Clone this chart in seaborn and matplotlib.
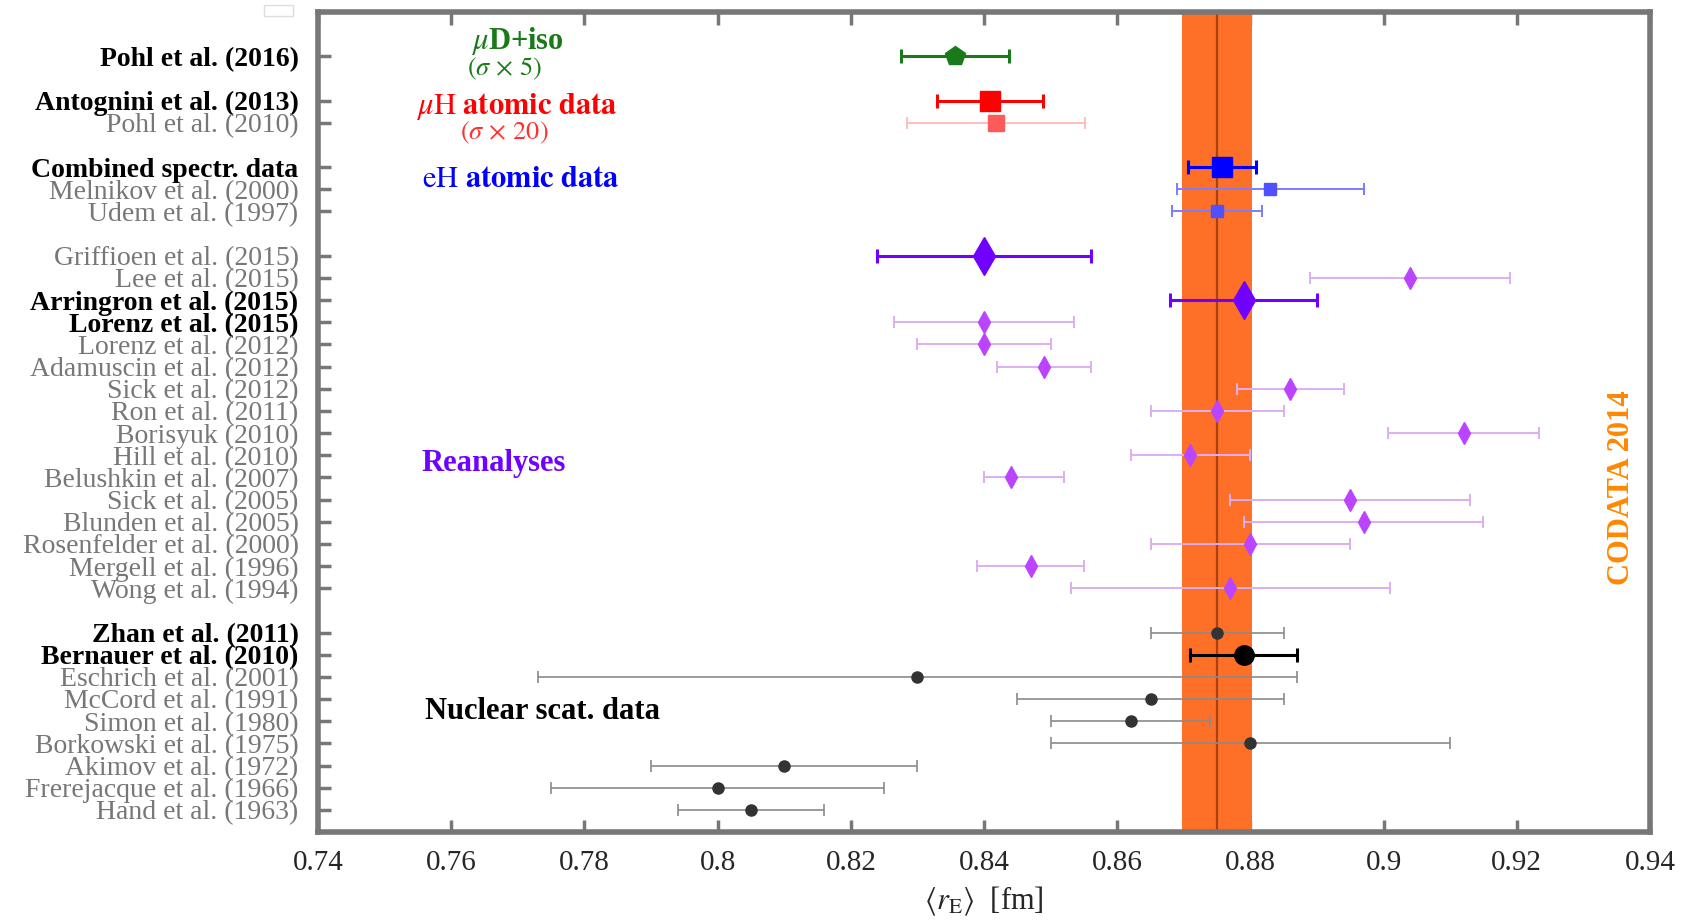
import numpy as np
import pandas as pd
import matplotlib
matplotlib.use("Agg")
import matplotlib.pyplot as plt
from matplotlib.patches import Rectangle
import seaborn as sns

# measurements, listed top to bottom (value, lower error, upper error)
labels = [
    "Pohl et al. (2016)",
    "Antognini et al. (2013)", "Pohl et al. (2010)",
    "Combined spectr. data", "Melnikov et al. (2000)", "Udem et al. (1997)",
    "Griffioen et al. (2015)", "Lee et al. (2015)", "Arringron et al. (2015)",
    "Lorenz et al. (2015)", "Lorenz et al. (2012)", "Adamuscin et al. (2012)",
    "Sick et al. (2012)", "Ron et al. (2011)", "Borisyuk (2010)", "Hill et al. (2010)",
    "Belushkin et al. (2007)", "Sick et al. (2005)", "Blunden et al. (2005)",
    "Rosenfelder et al. (2000)", "Mergell et al. (1996)", "Wong et al. (1994)",
    "Zhan et al. (2011)", "Bernauer et al. (2010)", "Eschrich et al. (2001)",
    "McCord et al. (1991)", "Simon et al. (1980)", "Borkowski et al. (1975)",
    "Akimov et al. (1972)", "Frerejacque et al. (1966)", "Hand et al. (1963)",
]
group = ["muD", "muH", "muH", "eH", "eH", "eH"] + ["re"] * 16 + ["sc"] * 9
radius = [0.8356, 0.8409, 0.8418, 0.8758, 0.883, 0.875,
          0.840, 0.904, 0.879, 0.840, 0.840, 0.849, 0.886, 0.875, 0.912, 0.871,
          0.844, 0.895, 0.897, 0.880, 0.847, 0.877,
          0.875, 0.879, 0.830, 0.865, 0.862, 0.880, 0.810, 0.800, 0.805]
err_lo = [0.0081, 0.0079, 0.0134, 0.0051, 0.014, 0.0068,
          0.016, 0.015, 0.011, 0.0135, 0.010, 0.007, 0.008, 0.010, 0.0113, 0.009,
          0.004, 0.018, 0.018, 0.015, 0.008, 0.024,
          0.010, 0.008, 0.057, 0.020, 0.012, 0.030, 0.020, 0.025, 0.011]
err_hi = [0.0081, 0.0079, 0.0134, 0.0051, 0.014, 0.0068,
          0.016, 0.015, 0.011, 0.0135, 0.010, 0.007, 0.008, 0.010, 0.0113, 0.009,
          0.008, 0.018, 0.018, 0.015, 0.008, 0.024,
          0.010, 0.008, 0.057, 0.020, 0.012, 0.030, 0.020, 0.025, 0.011]
highlight = [True, True, False, True, False, False,
             True, False, True, False, False, False, False, False, False, False,
             False, False, False, False, False, False,
             False, True, False, False, False, False, False, False, False]
bold_label = [True, True, False, True, False, False,
              False, False, True, True, False, False, False, False, False, False,
              False, False, False, False, False, False,
              True, True, False, False, False, False, False, False, False]

codata_value = 0.8750
codata_err = 0.0052

df = pd.DataFrame({"label": labels, "group": group, "r": radius,
                   "lo": err_lo, "hi": err_hi, "main": highlight, "bold": bold_label})

# y positions with a blank row between groups
ypos = []
y = len(df) + 4 - 1
prev = None
for g in df["group"]:
    if prev is not None and g != prev:
        y -= 1
    ypos.append(y)
    y -= 1
    prev = g
df["y"] = ypos

# (marker, marker colour, bar colour, size, bar width)
STYLE = {
    ("muD", True): ("p", "#1a7a1a", "#1a7a1a", 15, 2.2),
    ("muH", True): ("s", "#ff0000", "#ff0000", 14, 2.2),
    ("muH", False): ("s", "#ff5a5a", "#ffbcbc", 11, 1.4),
    ("eH", True): ("s", "#0000ff", "#0000ff", 14, 2.2),
    ("eH", False): ("s", "#5050ff", "#7c7cff", 9, 1.4),
    ("re", True): ("d", "#7000ff", "#7000ff", 19, 2.2),
    ("re", False): ("d", "#bb44ff", "#ddaef2", 11, 1.4),
    ("sc", True): ("o", "#000000", "#000000", 14, 2.2),
    ("sc", False): ("o", "#333333", "#8a8a8a", 8, 1.2),
}

sns.set_theme(style="ticks")
plt.rcParams["font.family"] = ["Liberation Serif", "DejaVu Serif"]
plt.rcParams["mathtext.fontset"] = "stix"

fig = plt.figure(figsize=(16.89, 9.23), dpi=100)
ax = fig.add_axes([0.1883, 0.0986, 0.7886, 0.8884])

# CODATA band
ax.axvspan(codata_value - codata_err, codata_value + codata_err,
           color="#fe7028", lw=0, zorder=1)
ax.axvline(codata_value, color="#a8420e", lw=1.6, zorder=1.5)

for _, row in df.iterrows():
    marker, mc, bc, ms, lw = STYLE[(row["group"], row["main"])]
    ax.errorbar(row["r"], row["y"], xerr=[[row["lo"]], [row["hi"]]], fmt="none",
                ecolor=bc, elinewidth=lw, capsize=5 if row["main"] else 4,
                capthick=lw, zorder=3)
    ax.plot(row["r"], row["y"], marker=marker, markersize=ms,
            color=mc, mec=mc, ls="none", zorder=4)

ax.set_xlim(0.74, 0.94)
ax.set_ylim(-1, 36)
ax.set_xticks(np.arange(0.74, 0.9401, 0.02))
ax.set_xticklabels(["0.74", "0.76", "0.78", "0.8", "0.82", "0.84", "0.86",
                    "0.88", "0.9", "0.92", "0.94"], fontsize=21)
ax.set_yticks(df["y"])
ax.set_yticklabels(df["label"], fontsize=20)
for tl, b in zip(ax.get_yticklabels(), df["bold"]):
    if b:
        tl.set_fontweight("bold")
        tl.set_color("black")
    else:
        tl.set_color("#777777")

for side in ["left", "right", "top", "bottom"]:
    ax.spines[side].set_color("#777777")
    ax.spines[side].set_linewidth(4)
    ax.spines[side].set_zorder(5)
ax.tick_params(axis="x", direction="in", length=9, width=2.5, color="#777777",
               top=True, bottom=True, pad=13)
ax.tick_params(axis="y", direction="in", length=9, width=2.5, color="#777777",
               left=True, right=False, pad=14)

ax.set_xlabel(r"$\langle r_\mathrm{E}\rangle$  [fm]", fontsize=22, labelpad=6)

# group annotations
ax.text(0.7699, 34.7, r"$\mu$D+iso", color="#1a7a1a", fontsize=22,
        fontweight="bold", ha="center", va="center")
ax.text(0.768, 33.45, r"$(\sigma\,\times\,5)$", color="#1a7a1a", fontsize=19,
        ha="center", va="center")
ax.text(0.7547, 31.75, r"$\mu\mathrm{H}$ $\mathbf{atomic\ data}$", color="#ff0000",
        fontsize=22, ha="left", va="center")
ax.text(0.768, 30.55, r"$(\sigma\,\times\,20)$", color="#ff3030", fontsize=19,
        ha="center", va="center")
ax.text(0.7556, 28.42, r"$\mathrm{eH}$ $\mathbf{atomic\ data}$", color="#0000ff",
        fontsize=22, ha="left", va="center")
ax.text(0.7556, 15.62, "Reanalyses", color="#7000ff", fontsize=22,
        fontweight="bold", ha="left", va="center")
ax.text(0.7561, 4.43, "Nuclear scat. data", color="black", fontsize=22,
        fontweight="bold", ha="left", va="center")
ax.text(0.9357, 14.55, "CODATA 2014", color="#ff8800", fontsize=22,
        fontweight="bold", rotation=90, ha="center", va="center")

# stray empty legend box at the top left
fig.patches.append(Rectangle((0.1563, 0.9827), 0.0172, 0.0119, transform=fig.transFigure,
                             fill=False, edgecolor="#dddddd", lw=1))

fig.savefig("out.png", dpi=100)
